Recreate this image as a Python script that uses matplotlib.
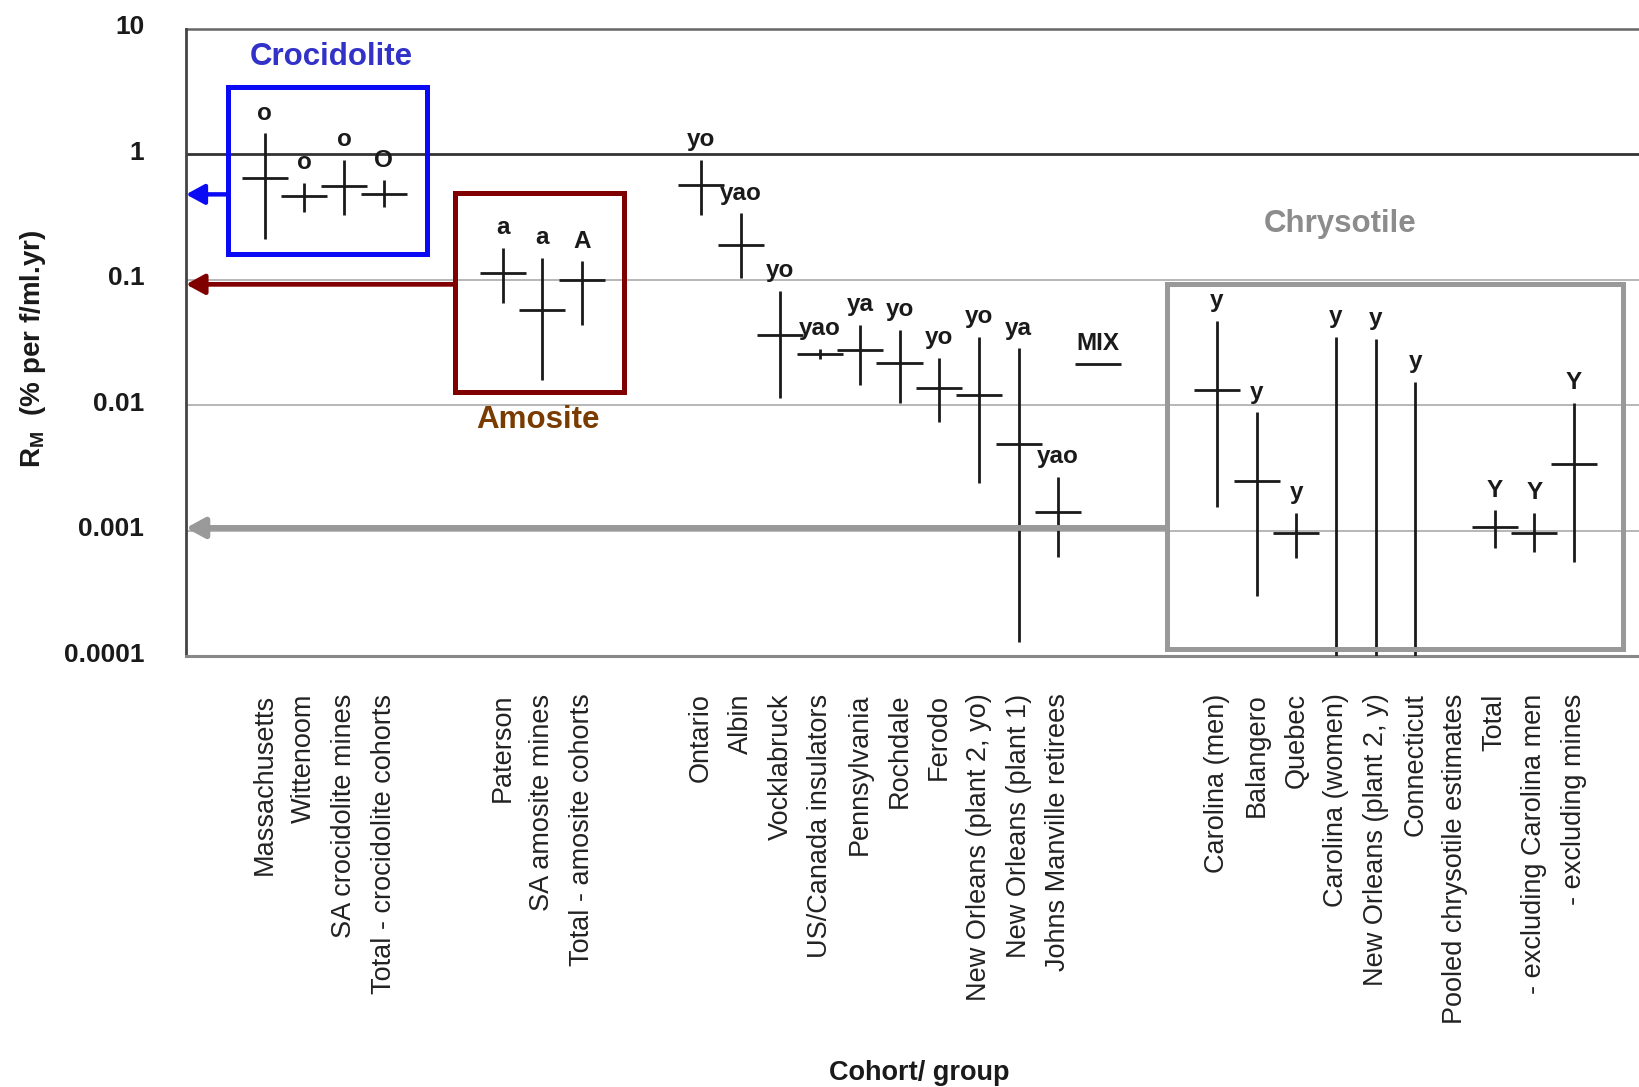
import numpy as np
import matplotlib
matplotlib.use('Agg')
import matplotlib.pyplot as plt
from matplotlib.patches import Rectangle
from matplotlib.transforms import ScaledTranslation

plt.rcParams['font.family'] = ['Liberation Sans', 'DejaVu Sans']
plt.rcParams['mathtext.fontset'] = 'custom'
plt.rcParams['mathtext.rm'] = 'Liberation Sans:bold'
plt.rcParams['mathtext.bf'] = 'Liberation Sans:bold'
plt.rcParams['mathtext.it'] = 'Liberation Sans:bold'

NAN = np.nan

# ---------------- data ----------------
croc_names = ['Massachusetts', 'Wittenoom', 'SA crocidolite mines', 'Total - crocidolite cohorts']
croc_tags = ['o', 'o', 'o', 'O']
croc_est = [0.65, 0.47, 0.56, 0.48]
croc_lo = [0.21, 0.35, 0.33, 0.38]
croc_hi = [1.47, 0.59, 0.91, 0.62]

amos_names = ['Paterson', 'SA amosite mines', 'Total - amosite cohorts']
amos_tags = ['a', 'a', 'A']
amos_est = [0.114, 0.057, 0.100]
amos_lo = [0.065, 0.016, 0.044]
amos_hi = [0.18, 0.149, 0.14]

mix_names = ['Ontario', 'Albin', 'Vocklabruck', 'US/Canada insulators', 'Pennsylvania',
             'Rochdale', 'Ferodo', 'New Orleans (plant 2, yo)', 'New Orleans (plant 1)',
             'Johns Manville retirees', '']
mix_tags = ['yo', 'yao', 'yo', 'yao', 'ya', 'yo', 'yo', 'yo', 'ya', 'yao', 'MIX']
mix_est = [0.57, 0.19, 0.036, 0.0254, 0.0274, 0.0218, 0.0137, 0.012, 0.0049, 0.00142, 0.0213]
mix_lo = [0.33, 0.103, 0.0115, 0.0235, 0.0145, 0.0105, 0.0074, 0.0024, 0.00013, 0.00062, NAN]
mix_hi = [0.91, 0.34, 0.082, 0.028, 0.044, 0.040, 0.024, 0.035, 0.0285, 0.0027, NAN]

chry_names = ['Carolina (men)', 'Balangero', 'Quebec', 'Carolina (women)',
              'New Orleans (plant 2, y)', 'Connecticut', 'Pooled chrysotile estimates',
              'Total', '- excluding Carolina men', '- excluding mines']
chry_tags = ['y', 'y', 'y', 'y', 'y', 'y', '', 'Y', 'Y', 'Y']
chry_est = [0.0132, 0.00247, 0.00095, NAN, NAN, NAN, NAN, 0.00106, 0.00096, 0.0034]
chry_lo = [0.00153, 0.0003, 0.00061, 0.00005, 0.00005, 0.00005, NAN, 0.00072, 0.00068, 0.00056]
chry_hi = [0.047, 0.0088, 0.00139, 0.035, 0.034, 0.0154, NAN, 0.00145, 0.00139, 0.0105]

ytick_vals = [0.0001, 0.001, 0.01, 0.1, 1, 10]
ytick_labels = ['0.0001', '0.001', '0.01', '0.1', '1', '10']

# ---------------- assemble ----------------
groups = [
    (croc_names, croc_tags, croc_est, croc_lo, croc_hi),
    (amos_names, amos_tags, amos_est, amos_lo, amos_hi),
    (mix_names, mix_tags, mix_est, mix_lo, mix_hi),
    (chry_names, chry_tags, chry_est, chry_lo, chry_hi),
]
GAP = 2
names, tags, est, lo, hi, pos = [], [], [], [], [], []
s = 0
for g in groups:
    n = len(g[0])
    names += g[0]; tags += g[1]; est += g[2]; lo += g[3]; hi += g[4]
    pos += list(range(s, s + n))
    s += n + GAP
pos = np.array(pos, dtype=float)
est = np.array(est); lo = np.array(lo); hi = np.array(hi)

# ---------------- figure ----------------
W, H = 1640, 1087
fig = plt.figure(figsize=(W / 100, H / 100), dpi=100)
ax = fig.add_axes([186 / W, 1 - 656 / H, (W - 186) / W, 627 / H])
ax.set_yscale('log')
XL = (-1.98, 34.66)
ax.set_xlim(*XL)
ax.set_ylim(1e-4, 10)

# horizontal reference lines
ax.axhline(1, color='#333333', lw=2.0, zorder=1)
ax.axhline(10, color='#666666', lw=1.8, zorder=1, clip_on=False)
for v in [0.1, 0.01, 0.001]:
    ax.axhline(v, color='#aaaaaa', lw=1.2, zorder=1)

for sp in ['top', 'right']:
    ax.spines[sp].set_visible(False)
ax.spines['left'].set_color('#444444')
ax.spines['left'].set_linewidth(2.0)
ax.spines['bottom'].set_color('#888888')
ax.spines['bottom'].set_linewidth(2.2)

# crosses
cc = '#1a1a1a'
m = ~np.isnan(lo)
ax.vlines(pos[m], lo[m], hi[m], color=cc, lw=2.0, zorder=3)
m2 = ~np.isnan(est)
ax.hlines(est[m2], pos[m2] - 0.58, pos[m2] + 0.58, color=cc, lw=2.0, zorder=3)

# tags above each estimate
for x, t, e, h in zip(pos, tags, est, hi):
    if not t:
        continue
    yref = h if not np.isnan(h) else e
    ax.annotate(t, (x, yref), xytext=(0, 14.5), textcoords='offset points',
                ha='center', va='center', fontsize=17.5, fontweight='bold',
                color='#1a1a1a', zorder=4)

# axes ticks
ax.set_yticks(ytick_vals)
ax.set_yticklabels(ytick_labels, fontsize=19, fontweight='bold', color='#1a1a1a')
ax.minorticks_off()
ax.tick_params(axis='y', length=0, pad=30)
shift = ScaledTranslation(0, 4 / 100, fig.dpi_scale_trans)
for lab in ax.get_yticklabels():
    lab.set_transform(lab.get_transform() + shift)
ax.set_xticks(pos)
ax.set_xticklabels(names, rotation=90, fontsize=19.5, color='#222222')
ax.tick_params(axis='x', length=0, pad=27)

# group boxes
boxes = [
    ((-0.92, 0.161), 4.09 + 0.92, 3.43, '#0a0af5'),
    ((4.80, 0.0127), 9.05 - 4.80, 0.49, '#800000'),
    ((22.74, 0.000114), 34.22 - 22.74, 0.092, '#999999'),
]
for (x0, y0), w, y1, col in boxes:
    ax.add_patch(Rectangle((x0, y0), w, y1 - y0, fill=False, edgecolor=col,
                           lw=3.6, zorder=5, clip_on=False))

# arrows from boxes to the axis
arrows = [(-0.92, croc_est[3], '#0a0af5', 3.2),
          (4.80, 0.092, '#800000', 3.4),
          (22.74, 0.00105, '#999999', 4.2)]
for xs, yv, col, lw in arrows:
    ax.annotate('', xy=(XL[0], yv), xytext=(xs, yv),
                arrowprops=dict(arrowstyle='-|>,head_length=0.55,head_width=0.3',
                                color=col, lw=lw, shrinkA=0, shrinkB=0,
                                mutation_scale=20),
                annotation_clip=False, zorder=5)

# group titles
ax.text(1.69, 5.98, 'Crocidolite', color='#3232c8', fontsize=22.5, fontweight='bold',
        ha='center', va='center')
ax.text(6.89, 0.0076, 'Amosite', color='#7a3b00', fontsize=22.5, fontweight='bold',
        ha='center', va='center')
ax.text(27.1, 0.281, 'Chrysotile', color='#8c8c8c', fontsize=22.5, fontweight='bold',
        ha='center', va='center')

# axis titles
fig.text(33 / W, 1 - 349 / H, r'$\mathbf{R_M}$  (% per f/ml.yr)', rotation=90,
         ha='center', va='center', fontsize=20, fontweight='bold', color='#1a1a1a')
fig.text(919 / W, 1 - 1073 / H, 'Cohort/ group', ha='center', va='center',
         fontsize=19.5, fontweight='bold', color='#1a1a1a')

fig.savefig('out.png', dpi=100, facecolor='white')
